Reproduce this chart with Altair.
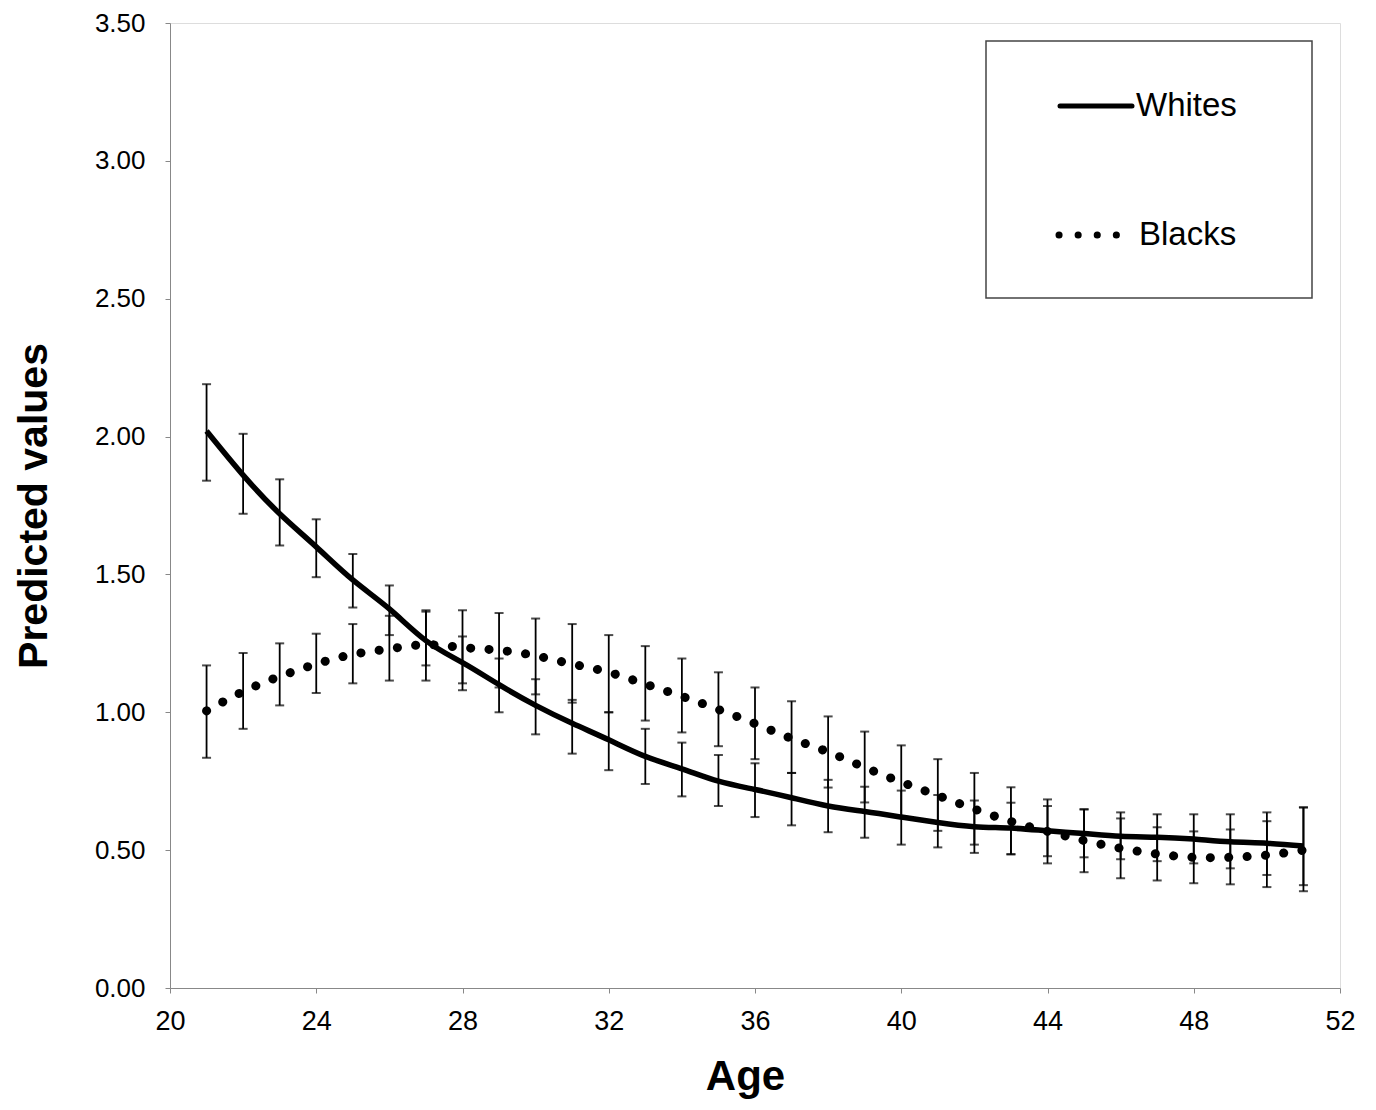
import altair as alt
import pandas as pd

ages = list(range(21, 52))

whites = [2.02, 1.86, 1.72, 1.60, 1.48, 1.375, 1.26, 1.18, 1.10, 1.025, 0.96, 0.90, 0.84, 0.795,
          0.75, 0.72, 0.69, 0.66, 0.64, 0.62, 0.60, 0.585, 0.58, 0.57, 0.56, 0.55, 0.547, 0.54,
          0.53, 0.525, 0.515]
whites_hi = [2.19, 2.01, 1.845, 1.70, 1.574, 1.46, 1.365, 1.275, 1.195, 1.12, 1.045, 1.0, 0.94,
             0.89, 0.845, 0.815, 0.78, 0.755, 0.73, 0.716, 0.70, 0.68, 0.672, 0.66, 0.648, 0.637,
             0.63, 0.63, 0.63, 0.637, 0.655]
whites_lo = [1.84, 1.72, 1.605, 1.49, 1.38, 1.28, 1.17, 1.08, 1.0, 0.92, 0.85, 0.79, 0.74, 0.695,
             0.66, 0.62, 0.59, 0.565, 0.545, 0.52, 0.51, 0.49, 0.485, 0.478, 0.474, 0.467, 0.46,
             0.452, 0.434, 0.41, 0.373]

blacks = [1.005, 1.075, 1.13, 1.175, 1.21, 1.23, 1.245, 1.235, 1.225, 1.205, 1.175, 1.145, 1.102,
          1.058, 1.01, 0.959, 0.905, 0.856, 0.80, 0.747, 0.698, 0.649, 0.604, 0.568, 0.535, 0.507,
          0.486, 0.474, 0.474, 0.482, 0.50]
blacks_hi = [1.17, 1.215, 1.25, 1.285, 1.32, 1.35, 1.37, 1.37, 1.36, 1.34, 1.32, 1.28, 1.24, 1.195,
             1.145, 1.09, 1.04, 0.985, 0.93, 0.88, 0.83, 0.78, 0.728, 0.684, 0.648, 0.615, 0.583,
             0.568, 0.575, 0.605, 0.655]
blacks_lo = [0.835, 0.94, 1.025, 1.07, 1.105, 1.115, 1.115, 1.105, 1.09, 1.065, 1.035, 1.0, 0.97,
             0.927, 0.877, 0.83, 0.78, 0.727, 0.673, 0.62, 0.57, 0.52, 0.485, 0.452, 0.42, 0.398,
             0.39, 0.38, 0.376, 0.366, 0.351]

x_ticks = [20, 24, 28, 32, 36, 40, 44, 48, 52]
y_ticks = [0, 0.5, 1.0, 1.5, 2.0, 2.5, 3.0, 3.5]

df = pd.concat([
    pd.DataFrame({"series": "Whites", "age": ages, "value": whites, "lo": whites_lo, "hi": whites_hi}),
    pd.DataFrame({"series": "Blacks", "age": ages, "value": blacks, "lo": blacks_lo, "hi": blacks_hi}),
], ignore_index=True)

FONT = "Liberation Sans"

x_enc = alt.X("age:Q", scale=alt.Scale(domain=[20, 52], nice=False),
              axis=alt.Axis(values=x_ticks, title="Age", format="d", labelFontSize=27,
                            labelPadding=15, labelFlush=False, grid=False,
                            titleFontSize=42, titleFontWeight="bold",
                            titlePadding=22, titleX=575))
y_scale = alt.Scale(domain=[0, 3.5], nice=False)
y_axis = alt.Axis(values=y_ticks, title="Predicted values", format=".2f", labelFontSize=26,
                  labelPadding=20, labelFlush=False, grid=False,
                  titleFontSize=41, titleFontWeight="bold", titlePadding=39)

base = alt.Chart(df)

bars = base.mark_rule(color="black", strokeWidth=1.8).encode(
    x=x_enc, y=alt.Y("lo:Q", scale=y_scale, axis=y_axis), y2="hi:Q")

caps = base.transform_fold(["lo", "hi"], as_=["end", "v"]).mark_tick(
    orient="horizontal", color="black", size=9, thickness=2).encode(
    x="age:Q", y=alt.Y("v:Q", scale=y_scale))

white_line = base.transform_filter(alt.datum.series == "Whites").mark_line(
    color="black", strokeWidth=5.5, interpolate="natural").encode(
    x="age:Q", y=alt.Y("value:Q", scale=y_scale))

black_line = base.transform_filter(alt.datum.series == "Blacks").mark_line(
    color="black", strokeWidth=9, strokeDash=[0.1, 18.3], strokeCap="round",
    interpolate="natural").encode(
    x="age:Q", y=alt.Y("value:Q", scale=y_scale))

one = pd.DataFrame({"k": [0]})
leg_box = alt.Chart(one).mark_rect(fill="white", stroke="#444", strokeWidth=1.5).encode(
    x=alt.value(816), x2=alt.value(1142), y=alt.value(18), y2=alt.value(275))
leg_w = alt.Chart(one).mark_rule(color="black", strokeWidth=5, strokeCap="round").encode(
    x=alt.value(890), x2=alt.value(962), y=alt.value(83))
leg_b = alt.Chart(one).mark_rule(color="black", strokeWidth=7, strokeDash=[0.1, 19],
                                 strokeCap="round").encode(
    x=alt.value(889), x2=alt.value(950), y=alt.value(212))
leg_text = alt.Chart(pd.DataFrame({"t": ["Whites", "Blacks"], "yy": [83, 212], "xx": [966, 969]})
                     ).mark_text(align="left", baseline="middle", fontSize=33, font=FONT,
                                 color="black").encode(
    text="t:N", x=alt.X("xx:Q", scale=None), y=alt.Y("yy:Q", scale=None))

chart = alt.layer(bars, caps, white_line, black_line, leg_box, leg_w, leg_b, leg_text).properties(
    width=1170, height=965,
    autosize=alt.AutoSizeParams(type="none"),
    padding={"left": 162, "top": 15, "right": 28, "bottom": 120},
).configure_view(fill="#f4f4f4", stroke="#888", strokeWidth=1).configure_axis(
    labelFont=FONT, titleFont=FONT, labelColor="#222", titleColor="black",
    domainColor="black", domainWidth=1.5, tickColor="black", tickSize=10, tickWidth=1.2,
    grid=False,
).configure(background="white")

chart.save("out.html", embed_options={"renderer": "svg", "actions": False})
